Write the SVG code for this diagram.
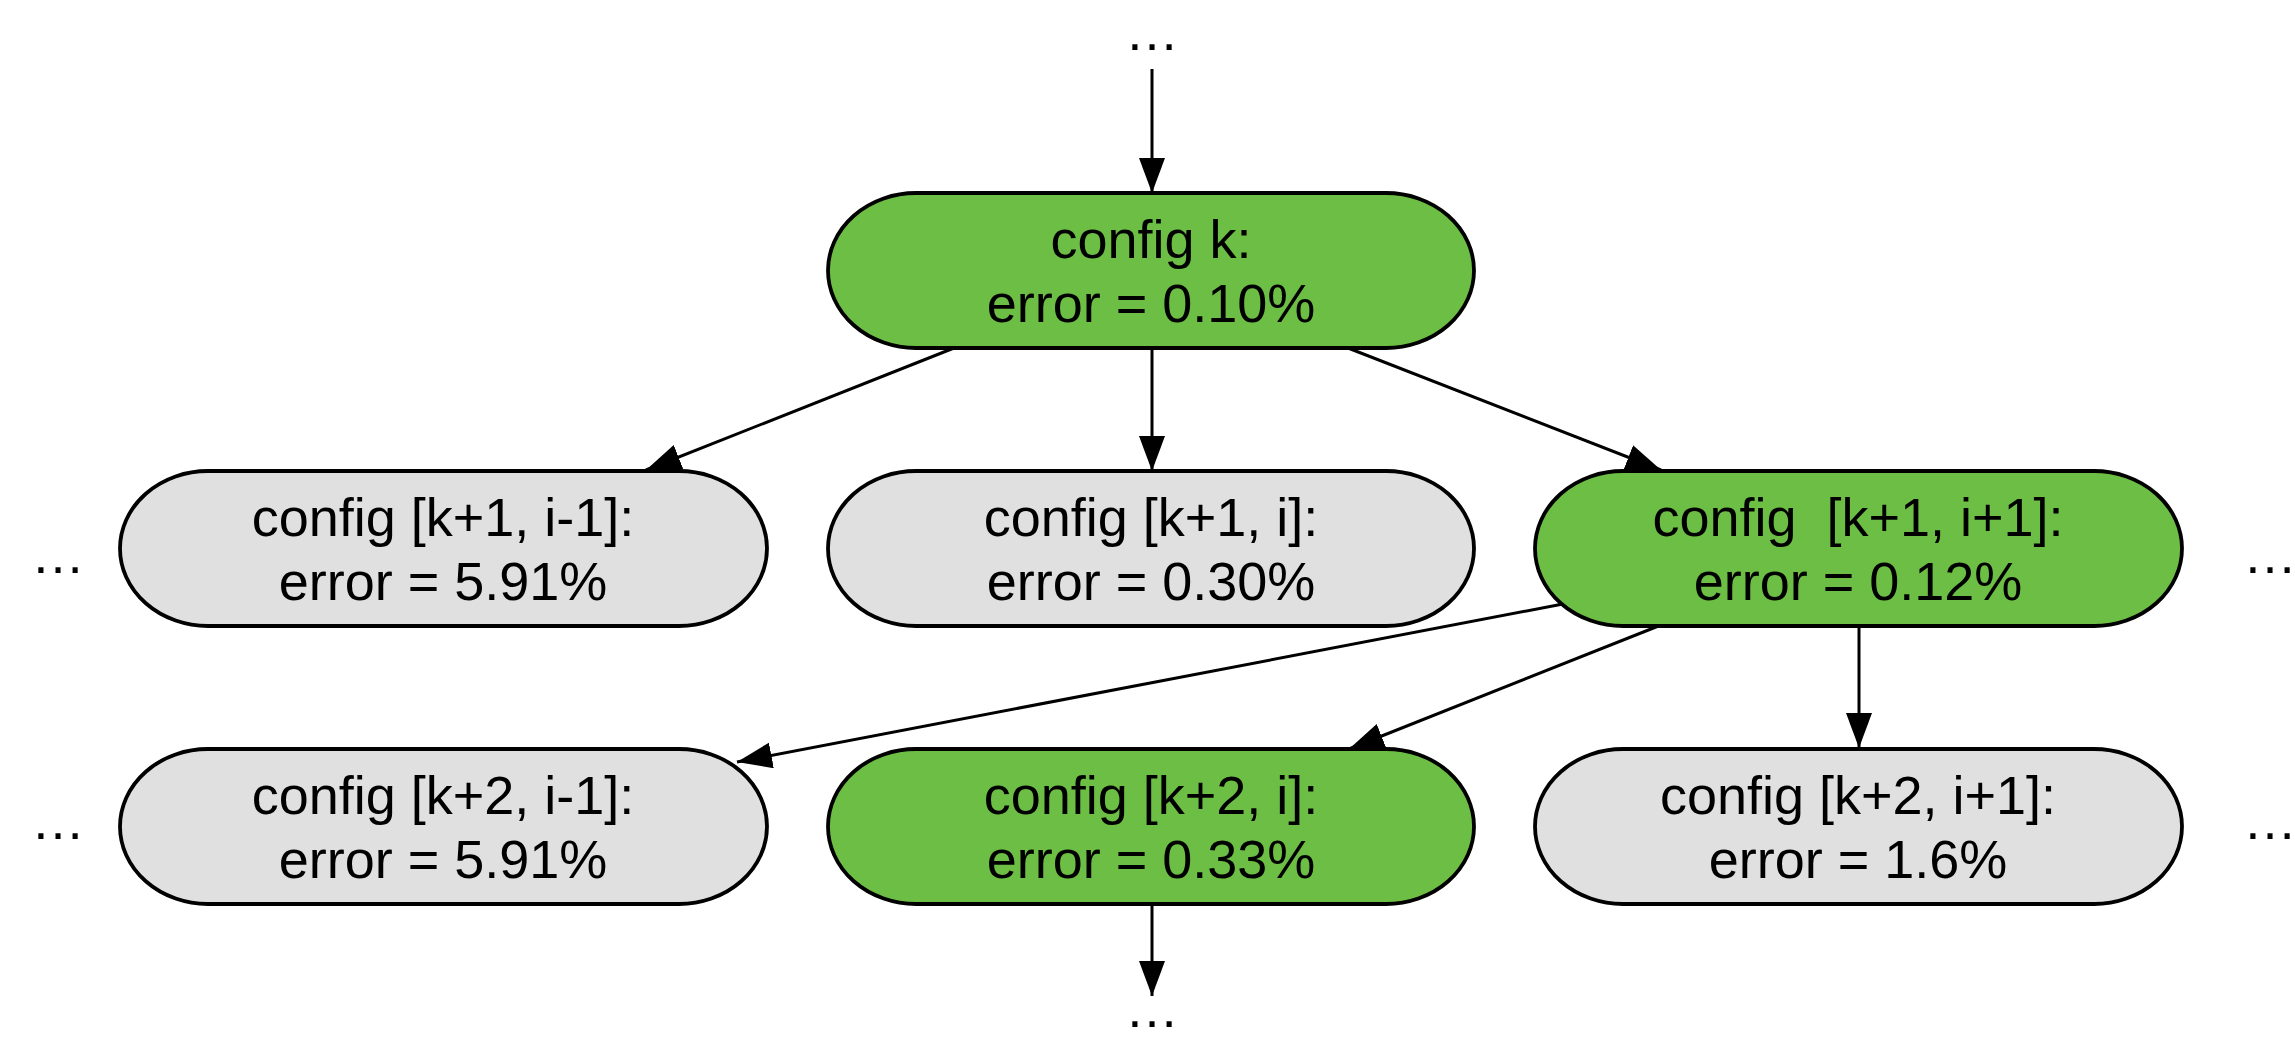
<svg xmlns="http://www.w3.org/2000/svg" width="2295" height="1039" viewBox="0 0 2295 1039">
<defs>
<marker id="ah" markerUnits="userSpaceOnUse" markerWidth="38" markerHeight="28" refX="35" refY="13" orient="auto">
<path d="M0,0 L35,13 L0,26 Z" fill="#000"/>
</marker>
<style>
.n rect{stroke:#000;stroke-width:3.8}
.g rect{fill:#6dbe45}
.w rect{fill:#e0e0e0}
text{font-family:"Liberation Sans",Arial,Helvetica,sans-serif;font-size:54px;fill:#000;text-anchor:middle}
.c line{stroke:#000;stroke-width:3;marker-end:url(#ah)}
</style>
</defs>
<rect width="2295" height="1039" fill="#fff"/>
<g id="connectors" class="c">
<line x1="1152" y1="69" x2="1152" y2="193"/>
<line x1="954" y1="348" x2="646" y2="470"/>
<line x1="1152" y1="348" x2="1152" y2="471"/>
<line x1="1348" y1="348" x2="1661" y2="470"/>
<line x1="1563" y1="604" x2="737" y2="762"/>
<line x1="1661" y1="625" x2="1349" y2="749"/>
<line x1="1859" y1="626" x2="1859" y2="748"/>
<line x1="1152" y1="904" x2="1152" y2="996"/>
</g>
<g id="ellipses">
<text x="1152" y="50">…</text>
<text x="58" y="573">…</text>
<text x="58" y="839">…</text>
<text x="2270" y="573">…</text>
<text x="2270" y="839">…</text>
<text x="1152" y="1027">…</text>
</g>
<g id="node-k" class="n g">
<rect x="828" y="193" width="646" height="155" rx="88" ry="77.5"/>
<text x="1151" y="258">config k:</text>
<text x="1151" y="322">error = 0.10%</text>
</g>
<g id="node-k1-im1" class="n w">
<rect x="120" y="471" width="647" height="155" rx="88" ry="77.5"/>
<text x="443" y="536">config [k+1, i-1]:</text>
<text x="443" y="600">error = 5.91%</text>
</g>
<g id="node-k1-i" class="n w">
<rect x="828" y="471" width="646" height="155" rx="88" ry="77.5"/>
<text x="1151" y="536">config [k+1, i]:</text>
<text x="1151" y="600">error = 0.30%</text>
</g>
<g id="node-k1-ip1" class="n g">
<rect x="1535" y="471" width="647" height="155" rx="88" ry="77.5"/>
<text x="1858" y="536" xml:space="preserve">config  [k+1, i+1]:</text>
<text x="1858" y="600">error = 0.12%</text>
</g>
<g id="node-k2-im1" class="n w">
<rect x="120" y="749" width="647" height="155" rx="88" ry="77.5"/>
<text x="443" y="814">config [k+2, i-1]:</text>
<text x="443" y="878">error = 5.91%</text>
</g>
<g id="node-k2-i" class="n g">
<rect x="828" y="749" width="646" height="155" rx="88" ry="77.5"/>
<text x="1151" y="814">config [k+2, i]:</text>
<text x="1151" y="878">error = 0.33%</text>
</g>
<g id="node-k2-ip1" class="n w">
<rect x="1535" y="749" width="647" height="155" rx="88" ry="77.5"/>
<text x="1858" y="814">config [k+2, i+1]:</text>
<text x="1858" y="878">error = 1.6%</text>
</g>
</svg>
